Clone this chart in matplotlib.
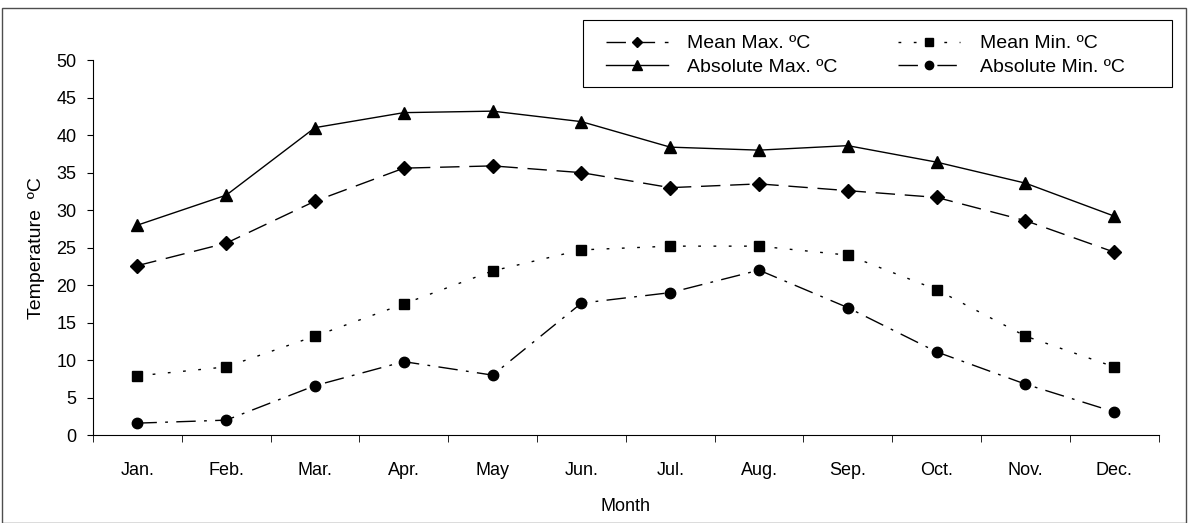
import numpy as np
import matplotlib.pyplot as plt
from matplotlib.patches import Rectangle

plt.rcParams['font.family'] = ['Liberation Sans', 'DejaVu Sans']

# Datos
months = ['Jan.', 'Feb.', 'Mar.', 'Apr.', 'May', 'Jun.', 'Jul.', 'Aug.', 'Sep.', 'Oct.', 'Nov.', 'Dec.']
mean_max = [22.6, 25.6, 31.2, 35.6, 35.9, 35.0, 33.0, 33.5, 32.6, 31.7, 28.6, 24.4]
mean_min = [7.9, 9.1, 13.2, 17.5, 21.9, 24.7, 25.2, 25.2, 24.0, 19.4, 13.2, 9.1]
abs_max = [28.0, 32.0, 41.0, 43.0, 43.2, 41.8, 38.4, 38.0, 38.6, 36.4, 33.6, 29.2]
abs_min = [1.6, 2.0, 6.6, 9.8, 8.0, 17.6, 19.0, 22.0, 17.0, 11.1, 6.8, 3.1]

w, h = 11.88, 5.23
fig = plt.figure(figsize=(w, h), dpi=100)
ax = fig.add_axes([0.0783, 0.168, 0.897, 0.717])
x = np.arange(len(months))

l1, = ax.plot(x, mean_max, color='k', lw=1, dashes=(14, 7), marker='D', ms=7, label='Mean Max. ºC')
l3, = ax.plot(x, abs_max, color='k', lw=1, ls='-', marker='^', ms=8.5, label='Absolute Max. ºC')
l2, = ax.plot(x, mean_min, color='k', lw=1, dashes=(2, 9), marker='s', ms=7, label='Mean Min. ºC')
l4, = ax.plot(x, abs_min, color='k', lw=1, dashes=(14, 6, 2, 6), marker='o', ms=7.5, label='Absolute Min. ºC')

# Ejes
ax.set_xlim(-0.5, 11.5)
ax.set_ylim(0, 50)
ax.set_yticks(np.arange(0, 51, 5))
ax.set_xticks(x)
ax.set_xticklabels(months)
ax.set_xticks(np.arange(-0.5, 12, 1), minor=True)
ax.tick_params(axis='x', which='major', length=0, pad=19, labelsize=13)
ax.tick_params(axis='x', which='minor', length=5, direction='out')
ax.tick_params(axis='y', length=4, direction='out', labelsize=13, pad=8)
for s in ['top', 'right']:
    ax.spines[s].set_visible(False)
ax.set_xlabel('Month', fontsize=13, labelpad=14)
ax.set_ylabel('Temperature  ºC', fontsize=14, labelpad=8)

# Leyenda (marco dibujado aparte)
leg = fig.legend(handles=[l1, l3, l2, l4], ncol=2, loc='upper left',
                 bbox_to_anchor=(597/1188, 1-26/523),
                 fontsize=14, frameon=False,
                 handlelength=3.2, handletextpad=1.0, columnspacing=3.1,
                 borderpad=0.45, borderaxespad=0, labelspacing=0.3,
                 markerscale=0.8)
fig.patches.append(Rectangle((583/1188, 1-87/523), 589/1188, 67/523,
                             transform=fig.transFigure, fill=False,
                             edgecolor='k', lw=0.8))

# Marco de la figura
fig.patches.append(Rectangle((0.002, 0.0), 0.996, 0.984, transform=fig.transFigure,
                             fill=False, edgecolor='0.3', lw=1))

fig.savefig('out.png', dpi=100)
